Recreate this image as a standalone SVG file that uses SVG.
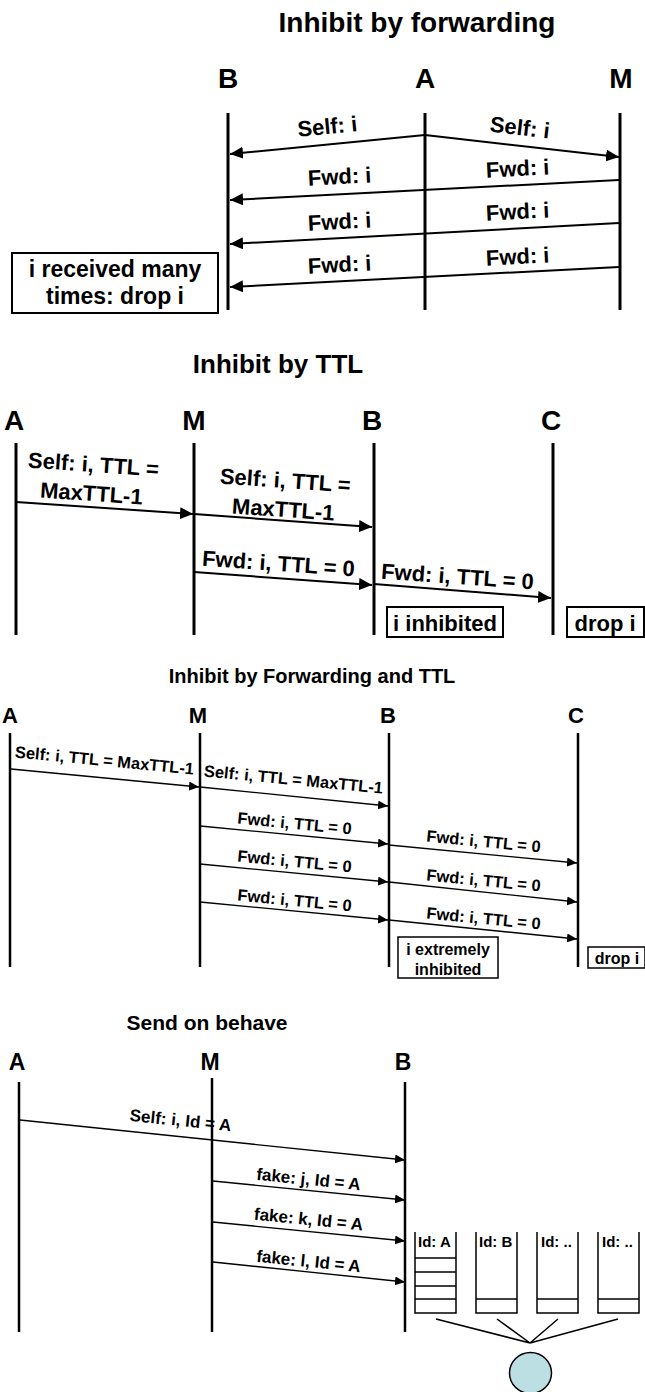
<svg xmlns="http://www.w3.org/2000/svg" width="645" height="1392" viewBox="0 0 645 1392">
<style>
text{font-family:"Liberation Sans",Arial,sans-serif;font-weight:bold;fill:#000}
.t{text-anchor:middle}
.life{stroke:#000;stroke-width:3;fill:none}
.life2{stroke:#000;stroke-width:2.5;fill:none}
.arr{stroke:#000;stroke-width:2;fill:none;marker-end:url(#ahL)}
.arr2{stroke:#000;stroke-width:1.3;fill:none;marker-end:url(#ahS)}
.box{fill:#fff;stroke:#000;stroke-width:2}
.box2{fill:#fff;stroke:#000;stroke-width:1.5}
.q{stroke:#000;stroke-width:1.5;fill:none}
</style>
<defs>
<marker id="ahL" markerUnits="userSpaceOnUse" markerWidth="14" markerHeight="12" refX="13" refY="6" orient="auto"><path d="M0,0 L13,6 L0,12 z" fill="#000"/></marker>
<marker id="ahS" markerUnits="userSpaceOnUse" markerWidth="11" markerHeight="10" refX="10" refY="4.5" orient="auto"><path d="M0,0 L10,4.5 L0,9 z" fill="#000"/></marker>
</defs>

<!-- Section 1 -->
<text class="t" x="417" y="32" font-size="28">Inhibit by forwarding</text>
<g id="s1-B"><text class="t" x="228" y="88" font-size="28">B</text><line class="life" x1="228" y1="113" x2="228" y2="310"/></g>
<g id="s1-A"><text class="t" x="425" y="88" font-size="28">A</text><line class="life" x1="425" y1="113" x2="425" y2="310"/></g>
<g id="s1-M"><text class="t" x="621" y="88" font-size="28">M</text><line class="life" x1="620" y1="113" x2="620" y2="310"/></g>
<g id="s1-note"><rect class="box" x="12" y="253" width="206" height="60"/>
<text class="t" x="115" y="277" font-size="23">i received many</text>
<text class="t" x="115" y="304" font-size="23">times: drop i</text></g>
<g id="s1-connectors">
<path class="arr" d="M425,135 L230,154"/>
<path class="arr" d="M425,135 L619,157"/>
<path class="arr" d="M619,180 L230,200"/>
<path class="arr" d="M619,223 L230,244"/>
<path class="arr" d="M619,267 L230,287"/>
<text class="t" x="328" y="134" font-size="22" transform="rotate(-5.5 328 134)">Self: i</text>
<text class="t" x="519" y="135" font-size="22" transform="rotate(6.5 519 135)">Self: i</text>
<text class="t" x="340" y="184" font-size="22" transform="rotate(-3 340 184)">Fwd: i</text>
<text class="t" x="518" y="176" font-size="22" transform="rotate(-3 518 176)">Fwd: i</text>
<text class="t" x="340" y="229" font-size="22" transform="rotate(-3 340 229)">Fwd: i</text>
<text class="t" x="518" y="219" font-size="22" transform="rotate(-3 518 219)">Fwd: i</text>
<text class="t" x="340" y="272" font-size="22" transform="rotate(-3 340 272)">Fwd: i</text>
<text class="t" x="518" y="264" font-size="22" transform="rotate(-3 518 264)">Fwd: i</text>
</g>

<!-- Section 2 -->
<text class="t" x="278" y="373" font-size="26">Inhibit by TTL</text>
<g id="s2-A"><text class="t" x="14" y="430" font-size="28">A</text><line class="life" x1="16" y1="443" x2="16" y2="635"/></g>
<g id="s2-M"><text class="t" x="194" y="430" font-size="28">M</text><line class="life" x1="194" y1="443" x2="194" y2="635"/></g>
<g id="s2-B"><text class="t" x="372" y="430" font-size="28">B</text><line class="life" x1="374" y1="443" x2="374" y2="635"/></g>
<g id="s2-C"><text class="t" x="551" y="430" font-size="28">C</text><line class="life" x1="553" y1="443" x2="553" y2="635"/></g>
<g id="s2-noteB"><rect class="box" x="387" y="607" width="116" height="30"/><text class="t" x="445" y="631" font-size="22">i inhibited</text></g>
<g id="s2-noteC"><rect class="box" x="567" y="607" width="77" height="30"/><text class="t" x="605" y="631" font-size="22">drop i</text></g>
<g id="s2-connectors">
<path class="arr" d="M16,502 L193,514"/>
<path class="arr" d="M194,514 L372,527"/>
<path class="arr" d="M194,572 L372,585"/>
<path class="arr" d="M374,584 L551,598"/>
<g transform="rotate(4 92 485)"><text class="t" x="92" y="472" font-size="22">Self: i, TTL =</text><text class="t" x="92" y="501" font-size="22">MaxTTL-1</text></g>
<g transform="rotate(4 284 500)"><text class="t" x="284" y="488" font-size="22">Self: i, TTL =</text><text class="t" x="284" y="517" font-size="22">MaxTTL-1</text></g>
<text class="t" x="278" y="571" font-size="22" transform="rotate(4 278 571)">Fwd: i, TTL = 0</text>
<text class="t" x="457" y="584" font-size="22" transform="rotate(4 457 584)">Fwd: i, TTL = 0</text>
</g>

<!-- Section 3 -->
<text class="t" x="312" y="683" font-size="20">Inhibit by Forwarding and TTL</text>
<g id="s3-A"><text class="t" x="10" y="723" font-size="22">A</text><line class="life2" x1="10" y1="733" x2="10" y2="967"/></g>
<g id="s3-M"><text class="t" x="198" y="723" font-size="22">M</text><line class="life2" x1="200" y1="733" x2="200" y2="967"/></g>
<g id="s3-B"><text class="t" x="388" y="723" font-size="22">B</text><line class="life2" x1="389" y1="733" x2="389" y2="967"/></g>
<g id="s3-C"><text class="t" x="576" y="723" font-size="22">C</text><line class="life2" x1="578" y1="733" x2="578" y2="967"/></g>
<g id="s3-noteB"><rect class="box2" x="398" y="937" width="100" height="41"/>
<text class="t" x="448" y="955" font-size="16">i extremely</text><text class="t" x="448" y="975" font-size="16">inhibited</text></g>
<g id="s3-noteC"><rect class="box2" x="588" y="947" width="57" height="21"/><text class="t" x="617" y="964" font-size="16">drop i</text></g>
<g id="s3-connectors">
<path class="arr2" d="M11,769 L199,787"/>
<path class="arr2" d="M200,787 L388,806"/>
<path class="arr2" d="M200,826 L388,844"/>
<path class="arr2" d="M389,845 L577,863"/>
<path class="arr2" d="M200,864 L388,882"/>
<path class="arr2" d="M389,882 L577,902"/>
<path class="arr2" d="M200,902 L388,920"/>
<path class="arr2" d="M389,920 L577,939"/>
<text class="t" x="104" y="766" font-size="16.5" transform="rotate(5.5 104 766)">Self: i, TTL = MaxTTL-1</text>
<text class="t" x="293" y="785" font-size="16.5" transform="rotate(5.5 293 785)">Self: i, TTL = MaxTTL-1</text>
<text class="t" x="294" y="829" font-size="16.5" transform="rotate(5.5 294 829)">Fwd: i, TTL = 0</text>
<text class="t" x="294" y="867" font-size="16.5" transform="rotate(5.5 294 867)">Fwd: i, TTL = 0</text>
<text class="t" x="294" y="906" font-size="16.5" transform="rotate(5.5 294 906)">Fwd: i, TTL = 0</text>
<text class="t" x="483" y="847" font-size="16.5" transform="rotate(5.5 483 847)">Fwd: i, TTL = 0</text>
<text class="t" x="483" y="886" font-size="16.5" transform="rotate(5.5 483 886)">Fwd: i, TTL = 0</text>
<text class="t" x="483" y="924" font-size="16.5" transform="rotate(5.5 483 924)">Fwd: i, TTL = 0</text>
</g>

<!-- Section 4 -->
<text class="t" x="207" y="1030" font-size="21">Send on behave</text>
<g id="s4-connectors">
<path class="arr2" d="M20,1120 L405,1160"/>
<path class="arr2" d="M213,1181 L405,1200"/>
<path class="arr2" d="M213,1222 L405,1241"/>
<path class="arr2" d="M213,1262 L405,1282"/>
<text class="t" x="180" y="1126" font-size="17" transform="rotate(5.9 180 1126)">Self: i, Id = A</text>
<text class="t" x="308" y="1185" font-size="17" transform="rotate(5.7 308 1185)">fake: j, Id = A</text>
<text class="t" x="308" y="1225" font-size="17" transform="rotate(5.7 308 1225)">fake: k, Id = A</text>
<text class="t" x="308" y="1267" font-size="17" transform="rotate(5.7 308 1267)">fake: l, Id = A</text>
<path class="q" d="M436,1319 L530,1343 M497,1319 L530,1343 M558,1319 L530,1343 M618,1319 L530,1343"/>
</g>
<g id="s4-A"><text class="t" x="17" y="1070" font-size="23">A</text><line class="life2" x1="19" y1="1082" x2="19" y2="1332"/></g>
<g id="s4-M"><text class="t" x="210" y="1070" font-size="23">M</text><line class="life2" x1="212" y1="1078" x2="212" y2="1332"/></g>
<g id="s4-B"><text class="t" x="403" y="1070" font-size="23">B</text><line class="life2" x1="405" y1="1082" x2="405" y2="1332"/></g>
<g id="s4-qA"><path class="q" d="M415,1232 V1313 H456 V1232 M415,1258 H456 M415,1272 H456 M415,1286 H456 M415,1299 H456"/><text x="418" y="1247" font-size="15">Id: A</text></g>
<g id="s4-qB"><path class="q" d="M476,1232 V1313 H517 V1232 M476,1299 H517"/><text x="479" y="1247" font-size="15">Id: B</text></g>
<g id="s4-q3"><path class="q" d="M537,1232 V1313 H578 V1232 M537,1299 H578"/><text x="541" y="1247" font-size="15">Id: ..</text></g>
<g id="s4-q4"><path class="q" d="M598,1232 V1313 H639 V1232 M598,1299 H639"/><text x="602" y="1247" font-size="15">Id: ..</text></g>
<g id="s4-node"><ellipse cx="530.5" cy="1373" rx="21" ry="20.5" fill="#bcdfe3" stroke="#000" stroke-width="1.5"/></g>
</svg>
